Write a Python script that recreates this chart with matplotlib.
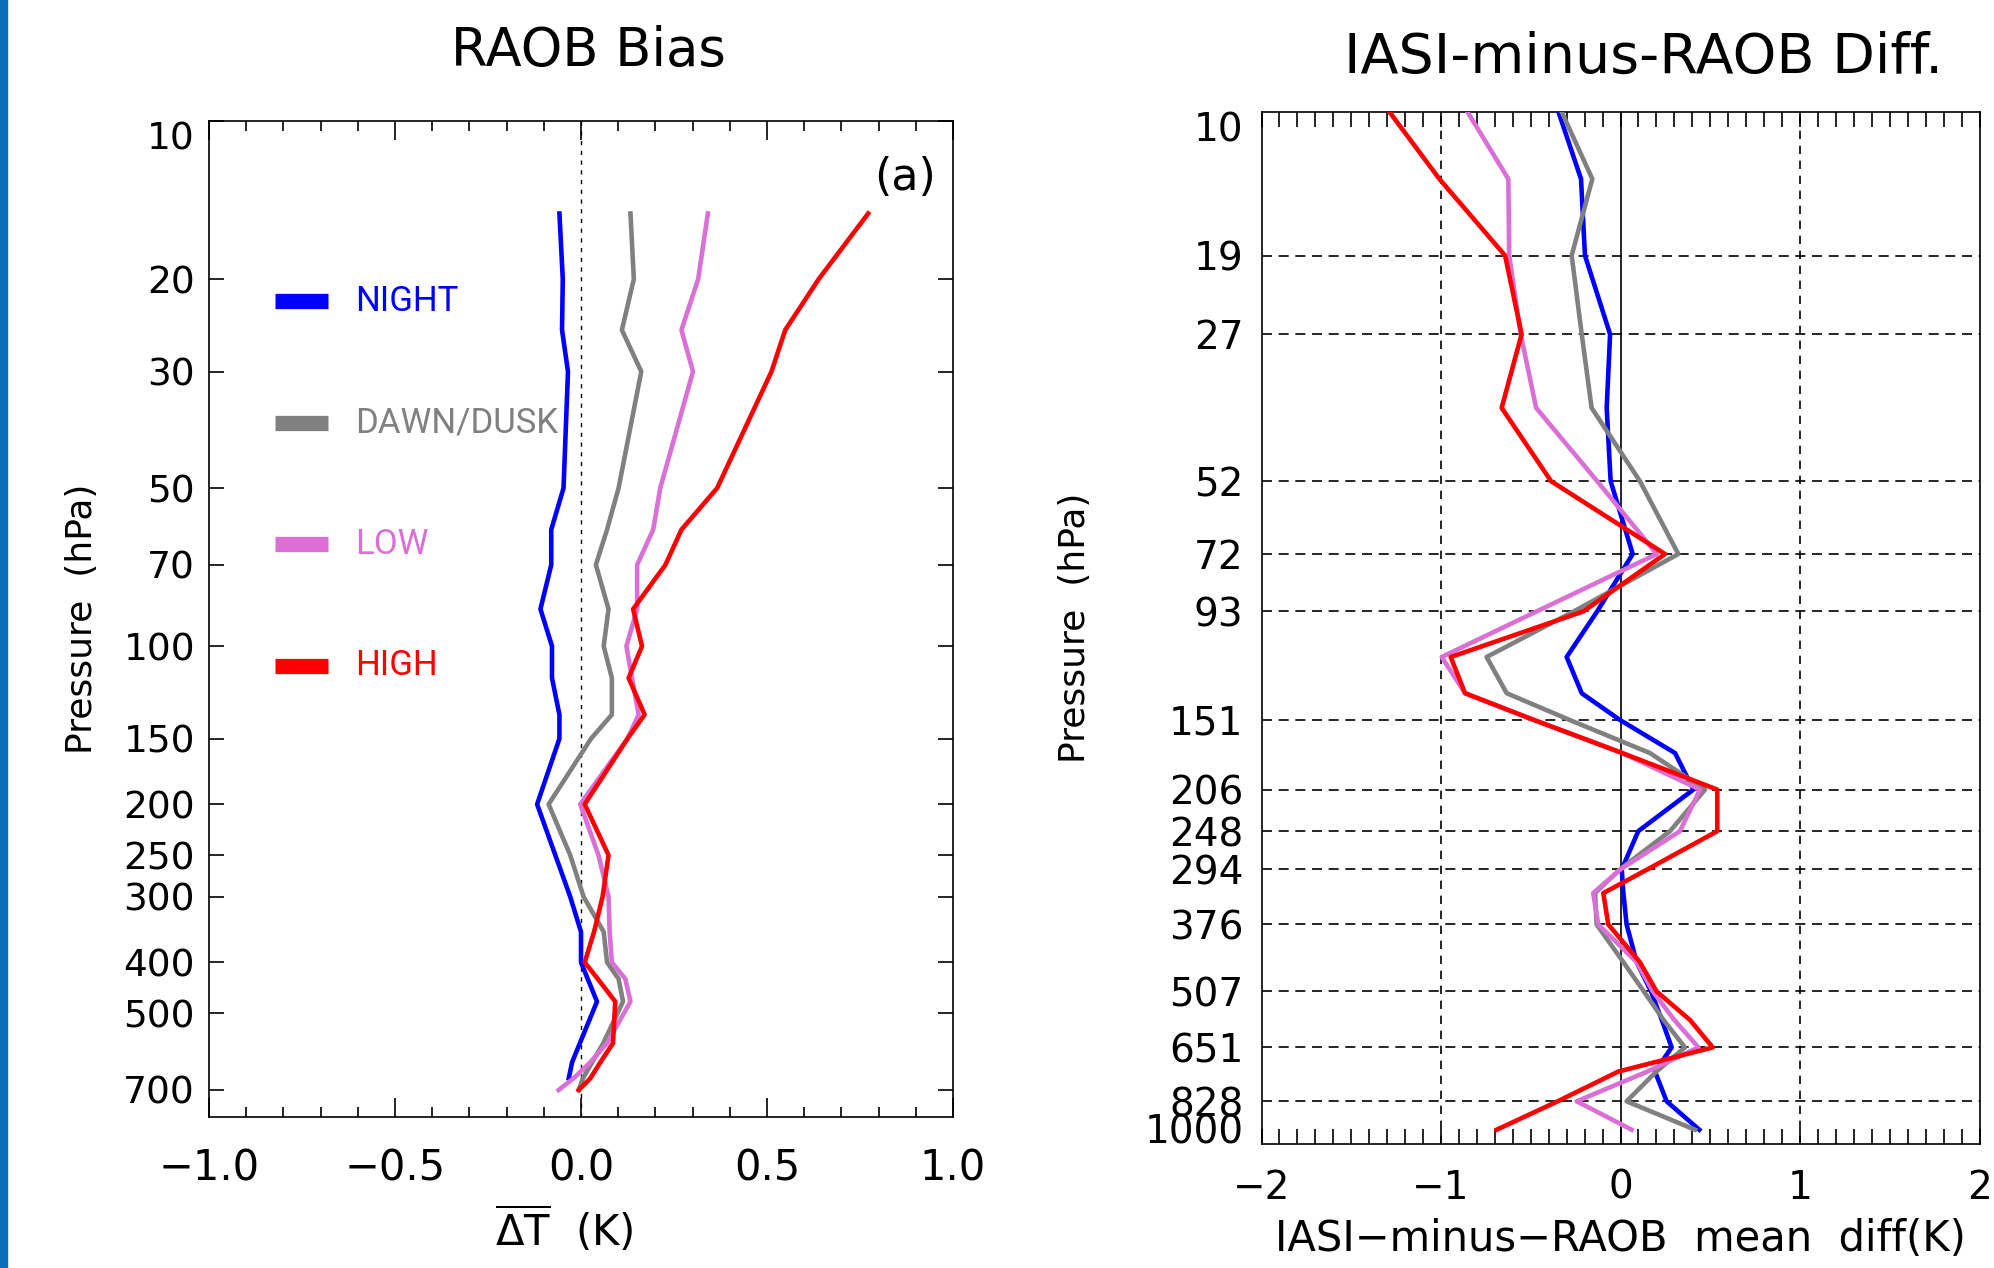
import numpy as np
import matplotlib.pyplot as plt
from matplotlib.lines import Line2D
from matplotlib.patches import Rectangle
from matplotlib.ticker import NullLocator, MultipleLocator

# ---- panel (a): RAOB bias, pressure levels (hPa) and mean dT (K)
p_left = [15, 20, 25, 30, 50, 60, 70, 85, 100, 115, 135, 150, 200, 250,
          300, 350, 400, 430, 475, 570, 620, 665, 700]
night_left = [-0.058, -0.049, -0.051, -0.035, -0.047, -0.080, -0.080, -0.109,
              -0.078, -0.078, -0.058, -0.058, -0.118, -0.069, -0.029, 0.0,
              0.0, 0.018, 0.043, -0.003, -0.024, -0.033, np.nan]
dawn_left = [0.133, 0.142, 0.110, 0.162, 0.101, 0.070, 0.040, 0.074, 0.061,
             0.083, 0.083, 0.027, -0.087, -0.029, 0.007, 0.061, 0.070, 0.101,
             0.113, 0.060, 0.030, 0.005, -0.006]
low_left = [0.341, 0.315, 0.270, 0.301, 0.213, 0.194, 0.151, 0.151, 0.122,
            0.137, 0.155, 0.125, -0.002, 0.047, 0.074, 0.077, 0.083, 0.119,
            0.133, 0.070, 0.025, -0.020, -0.060]
high_left = [0.772, 0.639, 0.549, 0.512, 0.366, 0.270, 0.227, 0.140, 0.164,
             0.128, 0.171, 0.125, 0.010, 0.074, 0.058, 0.035, 0.010, 0.045,
             0.092, 0.086, 0.052, 0.025, -0.006]
left_yticks = [10, 20, 30, 50, 70, 100, 150, 200, 250, 300, 400, 500, 700]
left_xticks = [-1.0, -0.5, 0.0, 0.5, 1.0]

# ---- right panel: IASI-minus-RAOB mean difference (K)
p_right = [10, 13.5, 19, 27, 37.5, 52, 72, 93, 114, 134, 151, 175, 206, 248,
           294, 327, 376, 445, 507, 576, 651, 725, 828, 940]
night_right = [-0.346, -0.220, -0.198, -0.058, -0.077, -0.055, 0.068, -0.130,
               -0.300, -0.216, -0.003, 0.304, 0.406, 0.099, 0.007, 0.016,
               0.034, 0.090, 0.170, 0.230, 0.285, 0.192, 0.257, 0.439]
dawn_right = [-0.328, -0.157, -0.272, -0.216, -0.161, 0.108, 0.322, -0.260,
              -0.746, -0.634, -0.283, 0.164, 0.471, 0.276, -0.003, -0.142,
              -0.133, 0.016, 0.130, 0.240, 0.359, 0.200, 0.034, 0.415]
low_right = [-0.853, -0.625, -0.620, -0.556, -0.470, -0.130, 0.202, -0.467,
             -0.996, -0.866, -0.482, 0.010, 0.443, 0.331, 0.000, -0.152,
             -0.124, 0.090, 0.180, 0.300, 0.434, 0.150, -0.244, 0.062]
high_right = [-1.288, -1.009, -0.643, -0.551, -0.662, -0.387, 0.248, -0.207,
              -0.946, -0.866, -0.482, 0.010, 0.539, 0.539, 0.151, -0.096,
              -0.068, 0.108, 0.201, 0.387, 0.514, -0.012, -0.350, -0.690]
right_yticks = [10, 19, 27, 52, 72, 93, 151, 206, 248, 294, 376, 507, 651, 828, 1000]
right_xticks = [-2, -1, 0, 1, 2]

names = ['NIGHT', 'DAWN/DUSK', 'LOW', 'HIGH']
colors = ['#0000ff', '#808080', '#da70d6', '#ff0000']

W, H = 1994, 1268
fig = plt.figure(figsize=(W / 100, H / 100), dpi=100)

# slide edge bar
fig.patches.append(Rectangle((0, 0), 7 / W, 1, transform=fig.transFigure,
                             color='#0a6ebd', zorder=0))

# ================= left panel =================
axL = fig.add_axes([209 / W, 1 - 1117 / H, 744 / W, 996 / H])
for vals, c in zip([night_left, dawn_left, low_left, high_left], colors):
    axL.plot(vals, p_left, color=c, lw=3.3)
axL.axvline(0, color='k', lw=1.0, ls=(0, (3, 4)), zorder=1)
axL.set_yscale('log')
axL.set_ylim(788, 10)
axL.set_xlim(-1, 1)
axL.set_yticks(left_yticks)
axL.set_yticklabels([str(v) for v in left_yticks])
axL.yaxis.set_minor_locator(NullLocator())
axL.set_xticks(left_xticks)
axL.set_xticklabels([('%.1f' % v).replace('-', '\u2212') for v in left_xticks])
axL.xaxis.set_minor_locator(MultipleLocator(0.1))
axL.tick_params(axis='x', which='major', direction='in', length=14, width=1.2,
                top=True, bottom=True, labelsize=30, pad=22)
axL.tick_params(axis='x', which='minor', direction='in', length=7.5, width=1.2,
                top=True, bottom=True)
axL.tick_params(axis='y', which='major', direction='in', length=11, width=1.2,
                left=True, right=True, labelsize=27, pad=10)
axL.yaxis.get_major_ticks()[0].label1.set_verticalalignment('top')
for s in axL.spines.values():
    s.set_linewidth(1.2)

axL.set_ylabel('Pressure  (hPa)', fontsize=26)
axL.yaxis.set_label_coords(-0.148, 0.5)
axL.set_xlabel(r'$\overline{\mathrm{\Delta T}}$  (K)', fontsize=30)
axL.xaxis.set_label_coords(0.478, -0.088)

# legend drawn as thick bars with narrow colored labels
for i, (name, c) in enumerate(zip(names, colors)):
    y = 0.819 - i * 0.122
    axL.add_line(Line2D([0.089, 0.160], [y, y], transform=axL.transAxes,
                        color=c, lw=11, solid_capstyle='butt'))
    axL.text(0.196, y, name, transform=axL.transAxes, color=c, fontsize=25,
             family=['Roboto', 'DejaVu Sans'], fontstretch='condensed',
             va='center')

axL.text(0.935, 0.943, '(a)', transform=axL.transAxes, fontsize=32,
         ha='center', va='center')
fig.text(588 / W, 1 - 51 / H, 'RAOB Bias', fontsize=38, ha='center', va='center')

# ================= right panel =================
axR = fig.add_axes([1261.5 / W, 1 - 1143.6 / H, 718 / W, 1031.9 / H])
for p in right_yticks[1:-1]:
    axR.axhline(p, color='k', lw=1.2, ls=(0, (6, 4)), zorder=1)
for x in right_xticks[1:-1]:
    if x == 0:
        axR.axvline(x, color='k', lw=1.2, zorder=1)
    else:
        axR.axvline(x, color='k', lw=1.2, ls=(0, (5, 4)), zorder=1)
for vals, c in zip([night_right, dawn_right, low_right, high_right], colors):
    axR.plot(vals, p_right, color=c, lw=3.3, zorder=3)
axR.set_yscale('log')
axR.set_ylim(1000, 10)
axR.set_xlim(-2, 2)
axR.set_yticks(right_yticks)
axR.set_yticklabels([str(v) for v in right_yticks])
axR.yaxis.set_minor_locator(NullLocator())
axR.set_xticks(right_xticks)
axR.set_xticklabels([str(v).replace('-', '\u2212') for v in right_xticks])
axR.xaxis.set_minor_locator(MultipleLocator(0.1))
axR.tick_params(axis='x', which='both', direction='in', length=11, width=1.2,
                top=True, bottom=True, labelsize=28, pad=18)
axR.tick_params(axis='y', which='major', length=0, labelsize=28, pad=13)
rt = axR.yaxis.get_major_ticks()
rt[0].label1.set_verticalalignment('top')
rt[-1].label1.set_verticalalignment('baseline')
for s in axR.spines.values():
    s.set_linewidth(1.2)

axR.set_ylabel('Pressure  (hPa)', fontsize=26)
axR.yaxis.set_label_coords(-0.236, 0.5)
axR.set_xlabel('IASI\u2212minus\u2212RAOB  mean  diff(K)', fontsize=30)
axR.xaxis.set_label_coords(0.5, -0.072)
fig.text(1644 / W, 1 - 58 / H, 'IASI-minus-RAOB Diff.', fontsize=40,
         ha='center', va='center')

fig.savefig('out.png', dpi=100)
